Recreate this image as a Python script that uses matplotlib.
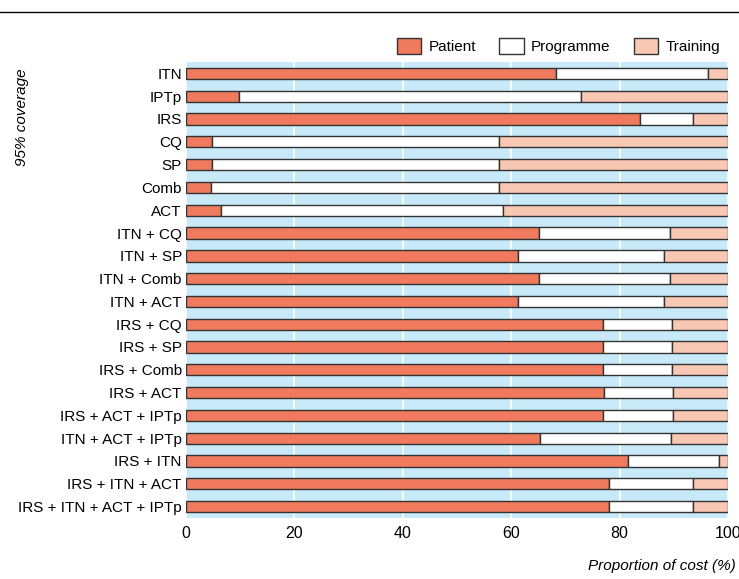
import matplotlib
matplotlib.use("Agg")
import matplotlib.pyplot as plt
import numpy as np

plt.rcParams['font.family'] = ['Liberation Sans', 'DejaVu Sans']

labels = ["ITN", "IPTp", "IRS", "CQ", "SP", "Comb", "ACT", "ITN + CQ", "ITN + SP",
          "ITN + Comb", "ITN + ACT", "IRS + CQ", "IRS + SP", "IRS + Comb", "IRS + ACT",
          "IRS + ACT + IPTp", "ITN + ACT + IPTp", "IRS + ITN", "IRS + ITN + ACT",
          "IRS + ITN + ACT + IPTp"]
patient = [68.2, 9.7, 83.8, 4.8, 4.8, 4.7, 6.4, 65.2, 61.3, 65.2, 61.2, 76.9, 76.9, 76.9,
           77.1, 76.9, 65.4, 81.6, 78.1, 78.1]
cum_programme = [96.4, 72.8, 93.6, 57.7, 57.7, 57.7, 58.4, 89.3, 88.2, 89.3, 88.1, 89.7,
                 89.7, 89.7, 89.9, 89.9, 89.5, 98.3, 93.5, 93.6]

patient = np.array(patient)
programme = np.array(cum_programme) - patient
training = 100 - np.array(cum_programme)

fig = plt.figure(figsize=(7.39, 5.79), dpi=100)
ax = fig.add_axes([186/739, 1 - 518/579, 542/739, (518 - 62)/579])
y = np.arange(len(labels))
kw = dict(height=0.5, edgecolor='#333333', linewidth=1.0)
ax.barh(y, patient, color='#f07a5e', label='Patient', **kw)
ax.barh(y, programme, left=patient, color='white', label='Programme', **kw)
ax.barh(y, training, left=patient + programme, color='#f9c8b4', label='Training', **kw)

ax.set_facecolor('#c8e9f8')
ax.set_xlim(0, 100)
ax.set_ylim(len(labels) - 0.5, -0.5)
ax.set_yticks(y)
ax.set_yticklabels(labels, fontsize=11)
ax.set_xticks([0, 20, 40, 60, 80, 100])
ax.tick_params(axis='x', labelsize=11.5, length=0, pad=6)
ax.tick_params(axis='y', length=0, pad=3)
ax.grid(axis='x', color='white', linewidth=1.2)
ax.set_axisbelow(True)
for s in ax.spines.values():
    s.set_visible(False)

fig.text(736/739, 1 - 566/579, 'Proportion of cost (%)', style='italic', fontsize=11,
         ha='right', va='center')
fig.text(22/739, 1 - 68/579, '95% coverage', style='italic', fontsize=11,
         rotation=90, ha='center', va='top')
fig.add_artist(plt.Line2D([0, 1], [1 - 12/579, 1 - 12/579], color='black', linewidth=1))
ax.legend(loc='lower right', bbox_to_anchor=(1.0, 1.0), ncol=3, frameon=False,
          fontsize=11, handlelength=1.6, handleheight=1.2, columnspacing=1.5,
          handletextpad=0.5, borderaxespad=0.1)

fig.savefig('out.png', dpi=100)
